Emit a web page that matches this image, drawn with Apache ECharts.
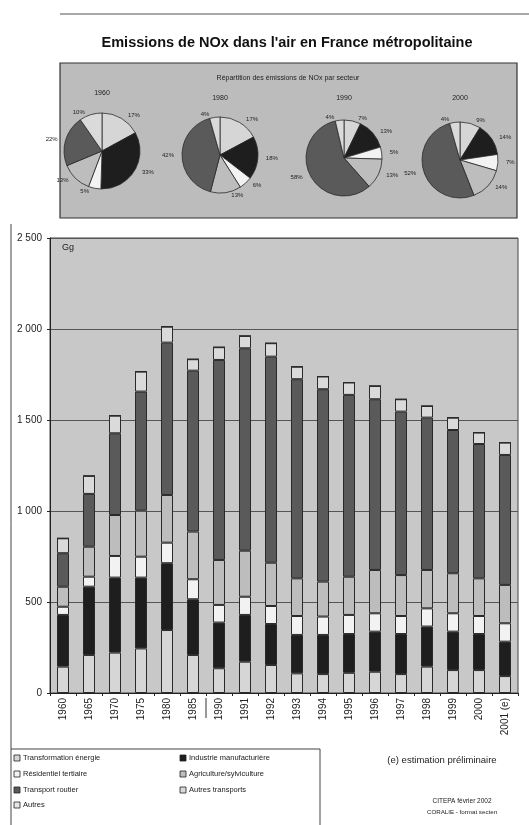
<!DOCTYPE html>
<html>
<head>
<meta charset="utf-8">
<style>
  html, body { margin: 0; padding: 0; background: #ffffff; }
  #chart { width: 529px; height: 825px; }
</style>
<script src="https://cdn.jsdelivr.net/npm/echarts@6/dist/echarts.min.js"></script>
</head>
<body>
<div id="chart"></div>
<script>
// NOx emissions by sector, mainland France (Gg)
const years = ['1960', '1965', '1970', '1975', '1980', '1985', '1990', '1991', '1992',
  '1993', '1994', '1995', '1996', '1997', '1998', '1999', '2000', '2001 (e)'];

const transformationEnergie = [145, 209, 222, 245, 346, 209, 136, 172, 154, 108, 104, 111, 117, 104, 145, 126, 126, 93];
const industrieManufacturiere = [284, 375, 412, 389, 367, 306, 251, 257, 225, 211, 215, 213, 220, 220, 220, 211, 198, 189];
const residentielTertiaire = [45, 55, 119, 115, 113, 110, 97, 100, 99, 104, 101, 105, 101, 99, 100, 101, 99, 101];
const agricultureSylviculture = [110, 165, 225, 253, 262, 262, 247, 253, 238, 207, 192, 210, 238, 225, 211, 220, 207, 211];
const transportRoutier = [184, 290, 449, 654, 837, 884, 1099, 1112, 1132, 1094, 1057, 999, 938, 898, 837, 787, 738, 714];
const autresTransports = [82, 99, 97, 110, 88, 63, 70, 68, 74, 69, 70, 68, 73, 68, 64, 68, 63, 68];
const autres = [0, 0, 0, 0, 0, 0, 0, 0, 0, 0, 0, 0, 0, 0, 0, 0, 0, 0];

const sectorNames = ['Transformation énergie', 'Industrie manufacturière', 'Résidentiel tertiaire',
  'Agriculture/sylviculture', 'Transport routier', 'Autres transports', 'Autres'];
const sectorValues = [transformationEnergie, industrieManufacturiere, residentielTertiaire,
  agricultureSylviculture, transportRoutier, autresTransports, autres];
const sectorColors = ['#d6d6d6', '#1e1e1e', '#f2f2f2', '#bdbdbd', '#5a5a5a', '#dadada', '#e6e6e6'];

const yTicks = [0, 500, 1000, 1500, 2000, 2500];
const yTickLabels = ['0', '500', '1 000', '1 500', '2 000', '2 500'];

// years shown as pies in the upper panel
const pieYears = ['1960', '1980', '1990', '2000'];

const FONT = 'Liberation Sans, Arial, sans-serif';

const chart = echarts.init(document.getElementById('chart'), null, { renderer: 'canvas' });

const barSeries = sectorNames.map((name, i) => ({
  name: name,
  type: 'bar',
  stack: 'total',
  barWidth: 12,
  data: sectorValues[i],
  itemStyle: { color: sectorColors[i], borderColor: '#2a2a2a', borderWidth: 1 },
  emphasis: { disabled: true },
  xAxisIndex: 0, yAxisIndex: 0
}));

const pieCenters = [[102, 151], [220, 155], [344, 158], [460, 160]];
const pieSeries = pieYears.map((yr, k) => {
  const idx = years.indexOf(yr);
  return {
    type: 'pie',
    center: pieCenters[k],
    radius: 38,
    startAngle: 90,
    clockwise: true,
    silent: true,
    data: sectorNames.slice(0, 6).map((name, i) => ({ name: name, value: sectorValues[i][idx] })),
    itemStyle: { borderColor: '#2a2a2a', borderWidth: 0.8 },
    label: {
      show: true, position: 'outside', formatter: p => Math.round(p.percent) + '%',
      fontSize: 6, color: '#222', fontFamily: FONT
    },
    labelLine: { show: false, length: 3, length2: 0 },
    color: sectorColors
  };
});

const graphics = [
  // title frame line
  { type: 'line', shape: { x1: 60, y1: 14, x2: 529, y2: 14 }, style: { stroke: '#555', lineWidth: 1.2 } },
  { type: 'text', x: 287, y: 43, style: { text: 'Emissions de NOx dans l\'air en France métropolitaine',
      font: 'bold 14.5px ' + FONT, fill: '#111', textAlign: 'center', textVerticalAlign: 'middle' } },
  // pie panel
  { type: 'rect', z: -10, shape: { x: 60, y: 63, width: 457, height: 155 },
    style: { fill: '#bcbcbc', stroke: '#333', lineWidth: 1.2 } },
  { type: 'text', x: 288, y: 78, style: { text: 'Répartition des émissions de NOx par secteur',
      font: '7px ' + FONT, fill: '#222', textAlign: 'center', textVerticalAlign: 'middle' } },
  // outer frame and legend box
  { type: 'line', shape: { x1: 11, y1: 224, x2: 11, y2: 825 }, style: { stroke: '#444', lineWidth: 1 } },
  { type: 'line', shape: { x1: 11, y1: 749, x2: 320, y2: 749 }, style: { stroke: '#444', lineWidth: 1 } },
  { type: 'line', shape: { x1: 320, y1: 749, x2: 320, y2: 825 }, style: { stroke: '#444', lineWidth: 1 } },
  // unit
  { type: 'text', x: 62, y: 248, style: { text: 'Gg', font: '9px ' + FONT, fill: '#222', textVerticalAlign: 'middle' } },
  // notes
  { type: 'text', x: 442, y: 760, style: { text: '(e) estimation préliminaire',
      font: '9.5px ' + FONT, fill: '#222', textAlign: 'center', textVerticalAlign: 'middle' } },
  { type: 'text', x: 462, y: 801, style: { text: 'CITEPA février 2002',
      font: '6.5px ' + FONT, fill: '#222', textAlign: 'center', textVerticalAlign: 'middle' } },
  { type: 'text', x: 462, y: 812, style: { text: 'CORALIE - format secten',
      font: '6.2px ' + FONT, fill: '#222', textAlign: 'center', textVerticalAlign: 'middle' } }
];
pieYears.forEach((yr, k) => {
  graphics.push({ type: 'text', x: pieCenters[k][0], y: k === 0 ? 93 : 98,
    style: { text: yr, font: '7px ' + FONT, fill: '#222', textAlign: 'center', textVerticalAlign: 'middle' } });
});

// legend laid out in two columns
const legendCols = [17, 183];
const legendRows = [758, 774, 790, 805];
sectorNames.forEach((name, i) => {
  const x = legendCols[i % 2];
  const y = legendRows[Math.floor(i / 2)];
  graphics.push({ type: 'rect', shape: { x: x - 3, y: y - 3, width: 6, height: 6 },
    style: { fill: sectorColors[i], stroke: '#222', lineWidth: 0.8 } });
  graphics.push({ type: 'text', x: x + 6, y: y, style: { text: name, font: '7.5px ' + FONT, fill: '#222',
    textVerticalAlign: 'middle' } });
});

chart.setOption({
  animation: false,
  grid: { left: 50, right: 11, top: 238, bottom: 132, show: true, backgroundColor: '#c8c8c8',
    borderColor: '#444', borderWidth: 1 },
  xAxis: {
    type: 'category', data: years,
    axisLine: { lineStyle: { color: '#222' } },
    axisTick: { show: true, length: 3, lineStyle: { color: '#222' } },
    axisLabel: { rotate: 90, fontSize: 10, color: '#222', fontFamily: FONT, margin: 5, interval: 0 }
  },
  yAxis: {
    type: 'value', min: 0, max: 2500, interval: 500,
    axisLine: { show: true, lineStyle: { color: '#222' } },
    axisTick: { show: true, length: 3, lineStyle: { color: '#222' } },
    splitLine: { lineStyle: { color: '#555', width: 1 } },
    axisLabel: { fontSize: 10, color: '#222', fontFamily: FONT, margin: 8,
      formatter: v => yTickLabels[yTicks.indexOf(v)] }
  },
  series: barSeries.concat(pieSeries),
  graphic: graphics
});

// separator between the 5-year steps and the annual series, under the axis
const xa = chart.convertToPixel({ xAxisIndex: 0 }, years[5]);
const xb = chart.convertToPixel({ xAxisIndex: 0 }, years[6]);
const y0 = chart.convertToPixel({ yAxisIndex: 0 }, 0);
chart.setOption({
  graphic: graphics.concat([{ type: 'line', shape: { x1: (xa + xb) / 2, y1: y0 + 5, x2: (xa + xb) / 2, y2: y0 + 25 },
    style: { stroke: '#333', lineWidth: 1 } }])
});
</script>
</body>
</html>
